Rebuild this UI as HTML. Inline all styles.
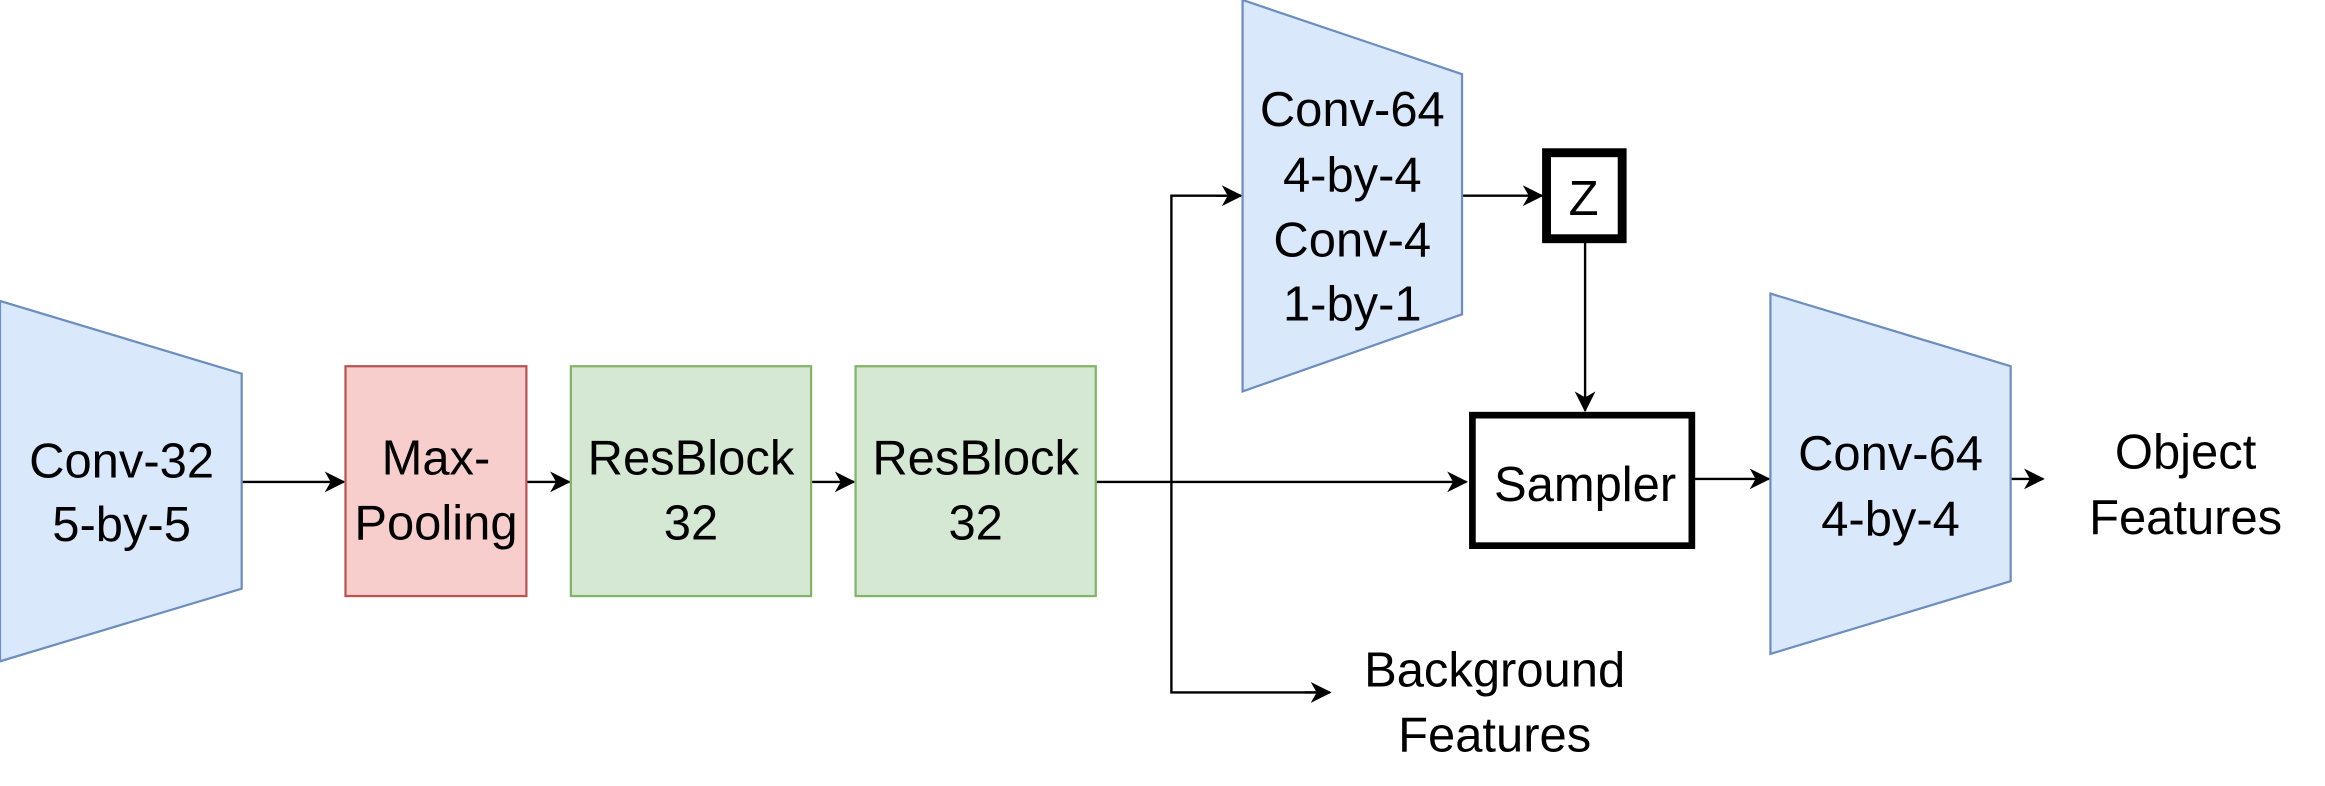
<!DOCTYPE html>
<html><head><meta charset="utf-8"><style>
html,body{margin:0;padding:0;background:#fff;}
svg{display:block;}
text{font-family:"Liberation Sans",Arial,sans-serif;font-size:33px;fill:#000;text-anchor:middle;}
</style></head><body>
<svg width="2325" height="786" viewBox="0 0 1568 530.1" preserveAspectRatio="none" xmlns="http://www.w3.org/2000/svg">
<defs>
<marker id="a" viewBox="0 0 14 14" refX="13" refY="7" markerWidth="14" markerHeight="14" markerUnits="userSpaceOnUse" orient="auto">
<path d="M0,0 L14,7 L0,14 L4,7 Z" fill="#000"/>
</marker>
</defs>
<g stroke="#000" stroke-width="1.6" fill="none">
<line x1="163" y1="325" x2="232" y2="325" marker-end="url(#a)"/>
<line x1="355" y1="325" x2="384" y2="325" marker-end="url(#a)"/>
<line x1="547" y1="325" x2="576" y2="325" marker-end="url(#a)"/>
<line x1="739" y1="325" x2="989" y2="325" marker-end="url(#a)"/>
<polyline points="830,132 790,132 790,467 890,467" fill="none"/>
<line x1="820" y1="132" x2="837" y2="132" marker-end="url(#a)"/>
<line x1="880" y1="467" x2="897" y2="467" marker-end="url(#a)"/>
<line x1="986" y1="132" x2="1040" y2="132" marker-end="url(#a)"/>
<line x1="1069" y1="163" x2="1069" y2="277" marker-end="url(#a)"/>
<line x1="1143" y1="323" x2="1193" y2="323" marker-end="url(#a)"/>
<line x1="1356" y1="323" x2="1378" y2="323" marker-end="url(#a)"/>
</g>
<polygon points="0,203 163,252 163,397 0,446" fill="#dae8fc" stroke="#6c8ebf" stroke-width="1.5"/>
<rect x="233" y="247" width="122" height="155" fill="#f8cecc" stroke="#b85450" stroke-width="1.5"/>
<rect x="385" y="247" width="162" height="155" fill="#d5e8d4" stroke="#82b366" stroke-width="1.5"/>
<rect x="577" y="247" width="162" height="155" fill="#d5e8d4" stroke="#82b366" stroke-width="1.5"/>
<polygon points="838,0 986,50 986,212 838,264" fill="#dae8fc" stroke="#6c8ebf" stroke-width="1.5"/>
<rect x="1043" y="103" width="51" height="58" fill="#fff" stroke="#000" stroke-width="6"/>
<rect x="993" y="280" width="148" height="88" fill="#fff" stroke="#000" stroke-width="4.5"/>
<polygon points="1194,198 1356,247 1356,392 1194,441" fill="#dae8fc" stroke="#6c8ebf" stroke-width="1.5"/>
<text x="82" y="322">Conv-32</text><text x="82" y="365">5-by-5</text>
<text x="294" y="320">Max-</text><text x="294" y="364">Pooling</text>
<text x="466" y="320">ResBlock</text><text x="466" y="364">32</text>
<text x="658" y="320">ResBlock</text><text x="658" y="364">32</text>
<text x="912" y="85">Conv-64</text><text x="912" y="129">4-by-4</text><text x="912" y="173">Conv-4</text><text x="912" y="216">1-by-1</text>
<text x="1068" y="145">Z</text>
<text x="1069" y="338">Sampler</text>
<text x="1275" y="317">Conv-64</text><text x="1275" y="361">4-by-4</text>
<text x="1474" y="316">Object</text><text x="1474" y="360">Features</text>
<text x="1008" y="463">Background</text><text x="1008" y="507">Features</text>
</svg>
</body></html>
